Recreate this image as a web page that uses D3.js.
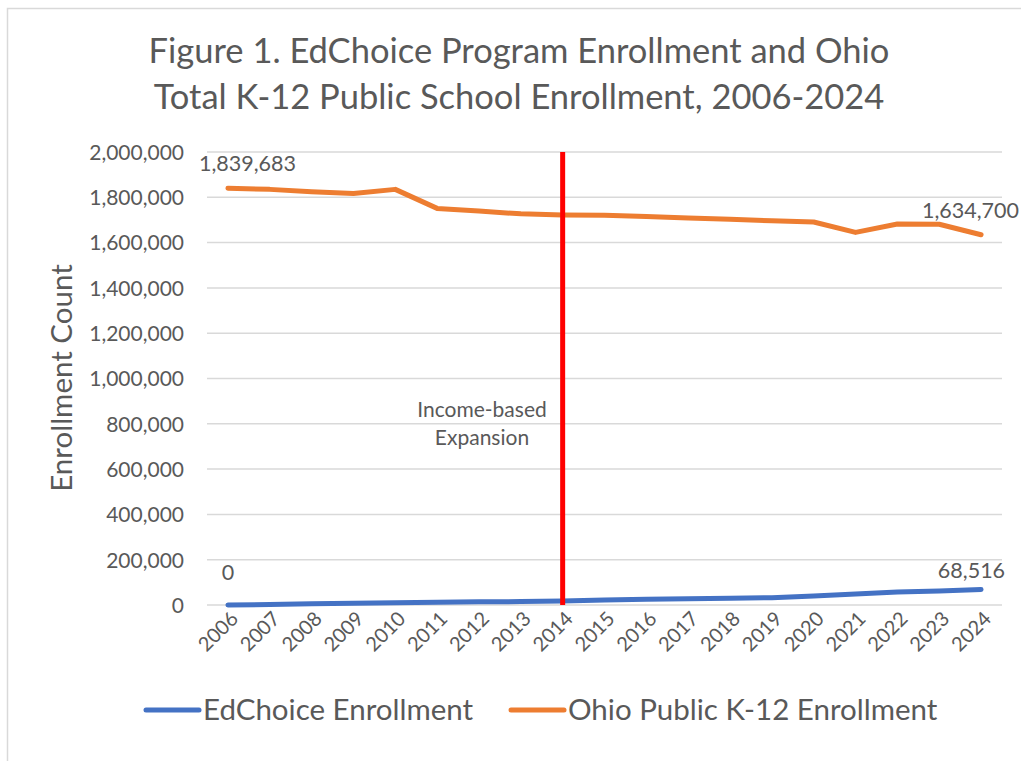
<!DOCTYPE html>
<html>
<head>
<meta charset="utf-8">
<script src="https://cdn.jsdelivr.net/npm/d3@7"></script>
<style>
	body { margin: 0; background: #fff; }
	svg text { font-family: Lato, "Open Sans", sans-serif; fill: #595959; }
</style>
</head>
<body>
<svg id="chart" width="1021" height="761"></svg>
<script>
const years = ["2006","2007","2008","2009","2010","2011","2012","2013","2014","2015","2016","2017","2018","2019","2020","2021","2022","2023","2024"];
const edchoice = [0, 2000, 5000, 8000, 10000, 12000, 14000, 15000, 18000, 22000, 25000, 28000, 30000, 32000, 40000, 49000, 57000, 62000, 68516];
const ohioPublic = [1839683, 1835000, 1825000, 1817000, 1835000, 1751000, 1739000, 1727000, 1722000, 1721000, 1715000, 1709000, 1703000, 1696000, 1691000, 1645000, 1682000, 1681000, 1634700];
const yTicks = [0, 200000, 400000, 600000, 800000, 1000000, 1200000, 1400000, 1600000, 1800000, 2000000];
const expansionYear = "2014";

const svg = d3.select("#chart");
const fmt = d3.format(",");

// outer chart border
svg.append("rect")
	.attr("x", 7.5).attr("y", 8.5)
	.attr("width", 1100).attr("height", 800)
	.attr("fill", "none")
	.attr("stroke", "#d9d9d9")
	.attr("stroke-width", 1.5);

// title
const title = svg.append("text")
	.attr("text-anchor", "middle")
	.style("font-size", "34.5px");
title.append("tspan").attr("x", 519).attr("y", 63).text("Figure 1. EdChoice Program Enrollment and Ohio");
title.append("tspan").attr("x", 519).attr("y", 109).text("Total K-12 Public School Enrollment, 2006-2024");

const x = d3.scalePoint().domain(years).range([207, 1002]).padding(0.5);
const y = d3.scaleLinear().domain([0, 2000000]).range([605, 152]);

// gridlines
svg.append("g")
	.selectAll("line")
	.data(yTicks)
	.enter().append("line")
	.attr("x1", 207).attr("x2", 1002)
	.attr("y1", d => y(d)).attr("y2", d => y(d))
	.attr("stroke", "#d9d9d9")
	.attr("stroke-width", 1.5);

// y axis labels
const yAxis = svg.append("g")
	.attr("transform", "translate(184,0)")
	.call(d3.axisLeft(y).tickValues(yTicks).tickFormat(fmt).tickSize(0).tickPadding(0));
yAxis.select(".domain").remove();
yAxis.selectAll("text").style("font-size", "21px").attr("dy", "0.35em");

// x axis labels
const xAxis = svg.append("g")
	.attr("transform", "translate(0,605)")
	.call(d3.axisBottom(x).tickSize(0).tickPadding(0));
xAxis.select(".domain").remove();
xAxis.selectAll("text")
	.style("font-size", "20px")
	.attr("text-anchor", "end")
	.attr("dy", 0)
	.attr("transform", "translate(11,15) rotate(-45)");

// axis title
svg.append("text")
	.attr("transform", "translate(72,378) rotate(-90)")
	.attr("text-anchor", "middle")
	.style("font-size", "29.5px")
	.text("Enrollment Count");

const line = d3.line()
	.x((d, i) => x(years[i]))
	.y(d => y(d));

svg.append("path")
	.datum(ohioPublic)
	.attr("d", line)
	.attr("fill", "none")
	.attr("stroke", "#ed7d31")
	.attr("stroke-width", 5)
	.attr("stroke-linecap", "round")
	.attr("stroke-linejoin", "round");

svg.append("path")
	.datum(edchoice)
	.attr("d", line)
	.attr("fill", "none")
	.attr("stroke", "#4472c4")
	.attr("stroke-width", 5)
	.attr("stroke-linecap", "round")
	.attr("stroke-linejoin", "round");

// expansion marker
svg.append("line")
	.attr("x1", x(expansionYear)).attr("x2", x(expansionYear))
	.attr("y1", y(2000000)).attr("y2", y(0))
	.attr("stroke", "#ff0000")
	.attr("stroke-width", 5);

const note = svg.append("text")
	.attr("text-anchor", "middle")
	.style("font-size", "21px");
note.append("tspan").attr("x", 482).attr("y", 417).text("Income-based");
note.append("tspan").attr("x", 482).attr("y", 445).text("Expansion");

// data labels at first and last points
const last = years.length - 1;
svg.append("text").attr("x", x(years[0]) - 29).attr("y", y(ohioPublic[0]) - 17)
	.style("font-size", "21.5px").text(fmt(ohioPublic[0]));
svg.append("text").attr("x", 1019).attr("y", y(ohioPublic[last]) - 17)
	.attr("text-anchor", "end").style("font-size", "21.5px").text(fmt(ohioPublic[last]));
svg.append("text").attr("x", x(years[0])).attr("y", y(edchoice[0]) - 25)
	.attr("text-anchor", "middle").style("font-size", "21.5px").text(fmt(edchoice[0]));
svg.append("text").attr("x", x(years[last]) + 24).attr("y", y(edchoice[last]) - 11)
	.attr("text-anchor", "end").style("font-size", "21.5px").text(fmt(edchoice[last]));

// legend
const legend = [
	{ name: "EdChoice Enrollment", color: "#4472c4", x: 146 },
	{ name: "Ohio Public K-12 Enrollment", color: "#ed7d31", x: 511 }
];
const lg = svg.append("g").selectAll("g").data(legend).enter().append("g")
	.attr("transform", d => "translate(" + d.x + ",710)");
lg.append("line").attr("x1", 0).attr("x2", 53)
	.attr("stroke", d => d.color).attr("stroke-width", 5).attr("stroke-linecap", "round");
lg.append("text").attr("x", 57).attr("y", 10).style("font-size", "29.5px").text(d => d.name);
</script>
</body>
</html>
